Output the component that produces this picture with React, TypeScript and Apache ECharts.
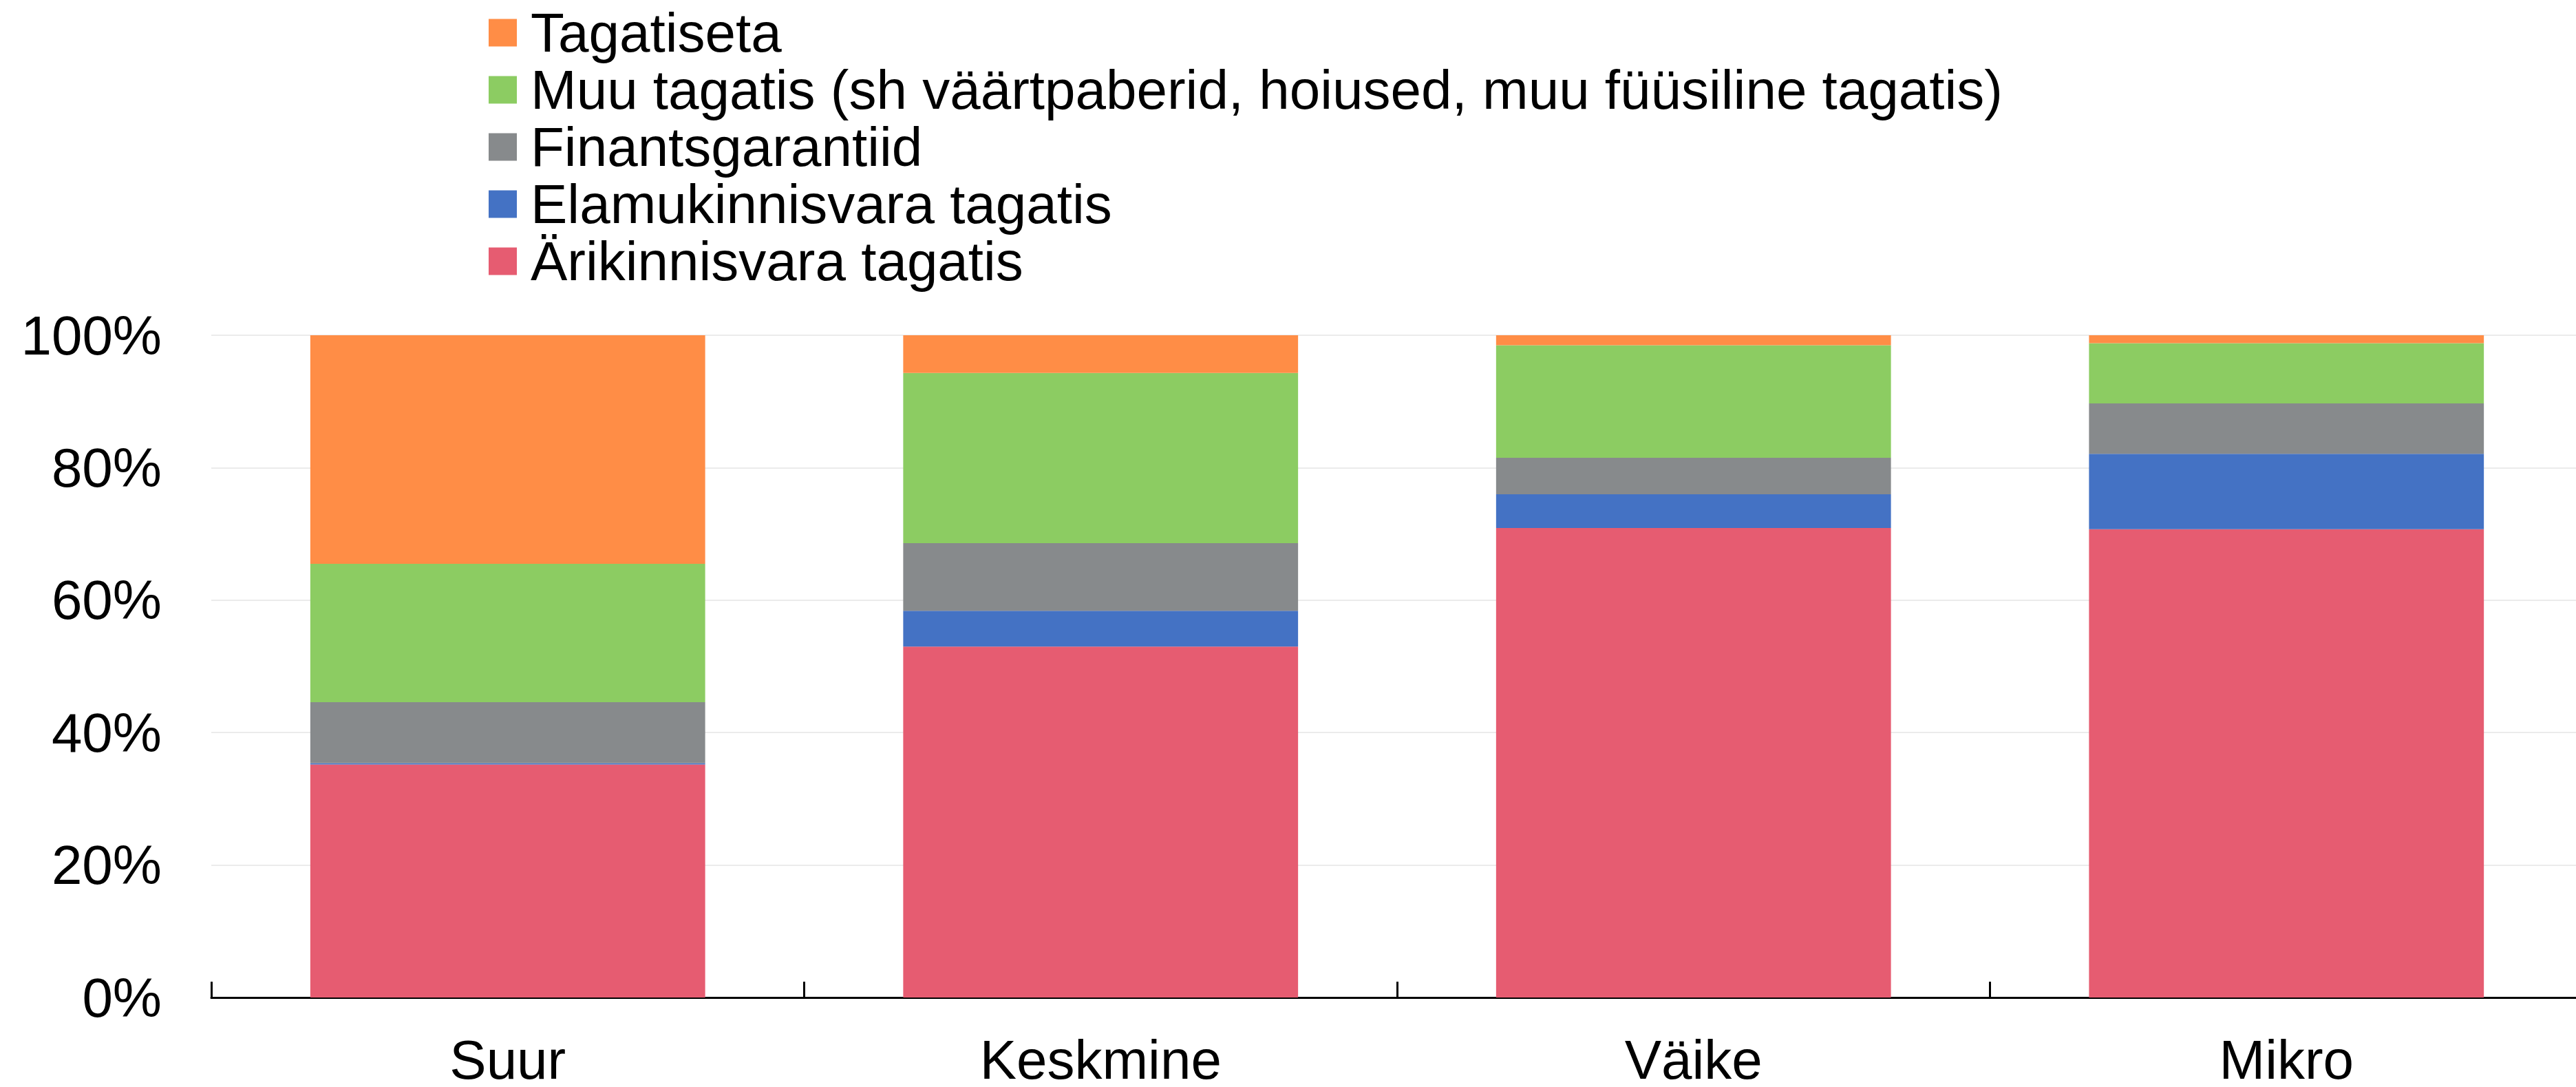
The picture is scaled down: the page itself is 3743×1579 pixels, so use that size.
import React, { useEffect, useRef } from "react";
import * as echarts from "echarts";

const categories = ["Suur", "Keskmine", "Väike", "Mikro"];
const ariKinnisvara = [35.2, 53.0, 70.9, 70.7];
const elamuKinnisvara = [0.2, 5.4, 5.1, 11.4];
const finantsgarantiid = [9.2, 10.2, 5.5, 7.6];
const muuTagatis = [20.9, 25.7, 17.0, 9.1];
const tagatiseta = [34.5, 5.7, 1.5, 1.2];

const seriesNames = [
  "Ärikinnisvara tagatis",
  "Elamukinnisvara tagatis",
  "Finantsgarantiid",
  "Muu tagatis (sh väärtpaberid, hoiused, muu füüsiline tagatis)",
  "Tagatiseta",
];
const seriesData = [ariKinnisvara, elamuKinnisvara, finantsgarantiid, muuTagatis, tagatiseta];
const seriesColors = ["#E65C71", "#4472C4", "#878A8C", "#8CCC62", "#FF8D46"];

export default function App() {
  const ref = useRef<HTMLDivElement>(null);
  useEffect(() => {
    if (!ref.current) return;
    document.body.style.overflow = "hidden";
    document.documentElement.style.overflow = "hidden";
    const chart = echarts.init(ref.current, null, { renderer: "svg" });
    const font = "'Liberation Sans', Arial, sans-serif";
    chart.setOption({
      animation: false,
      textStyle: { fontFamily: font },
      legend: {
        orient: "vertical",
        left: 710,
        top: 6,
        padding: 0,
        itemGap: 0,
        itemWidth: 41,
        itemHeight: 40,
        icon: "rect",
        data: [...seriesNames].reverse(),
        textStyle: {
          fontFamily: font,
          fontSize: 80,
          lineHeight: 83,
          color: "#000",
          padding: [0, 0, 0, 15],
        },
      },
      grid: { left: 307, right: 0, top: 487, bottom: 130, containLabel: false },
      xAxis: {
        type: "category",
        data: categories,
        axisLine: { lineStyle: { color: "#000", width: 3 } },
        axisTick: { show: true, inside: true, length: 23, lineStyle: { color: "#000", width: 3 } },
        axisLabel: { fontFamily: font, fontSize: 80, lineHeight: 64, color: "#000", margin: 58 },
      },
      yAxis: {
        type: "value",
        min: 0,
        max: 100,
        interval: 20,
        axisLine: { show: false },
        axisTick: { show: false },
        splitLine: { lineStyle: { color: "#EBEBEB", width: 2 } },
        axisLabel: { fontFamily: font, fontSize: 80, color: "#000", margin: 72, formatter: "{value}%" },
      },
      series: seriesNames.map((name, i) => ({
        name,
        type: "bar",
        stack: "total",
        barWidth: "66.6%",
        data: seriesData[i],
        itemStyle: { color: seriesColors[i] },
      })),
    });
    return () => chart.dispose();
  }, []);
  return (
    <div
      ref={ref}
      style={{ position: "fixed", left: 0, top: 0, width: 3753, height: 1579, background: "#fff" }}
    />
  );
}
